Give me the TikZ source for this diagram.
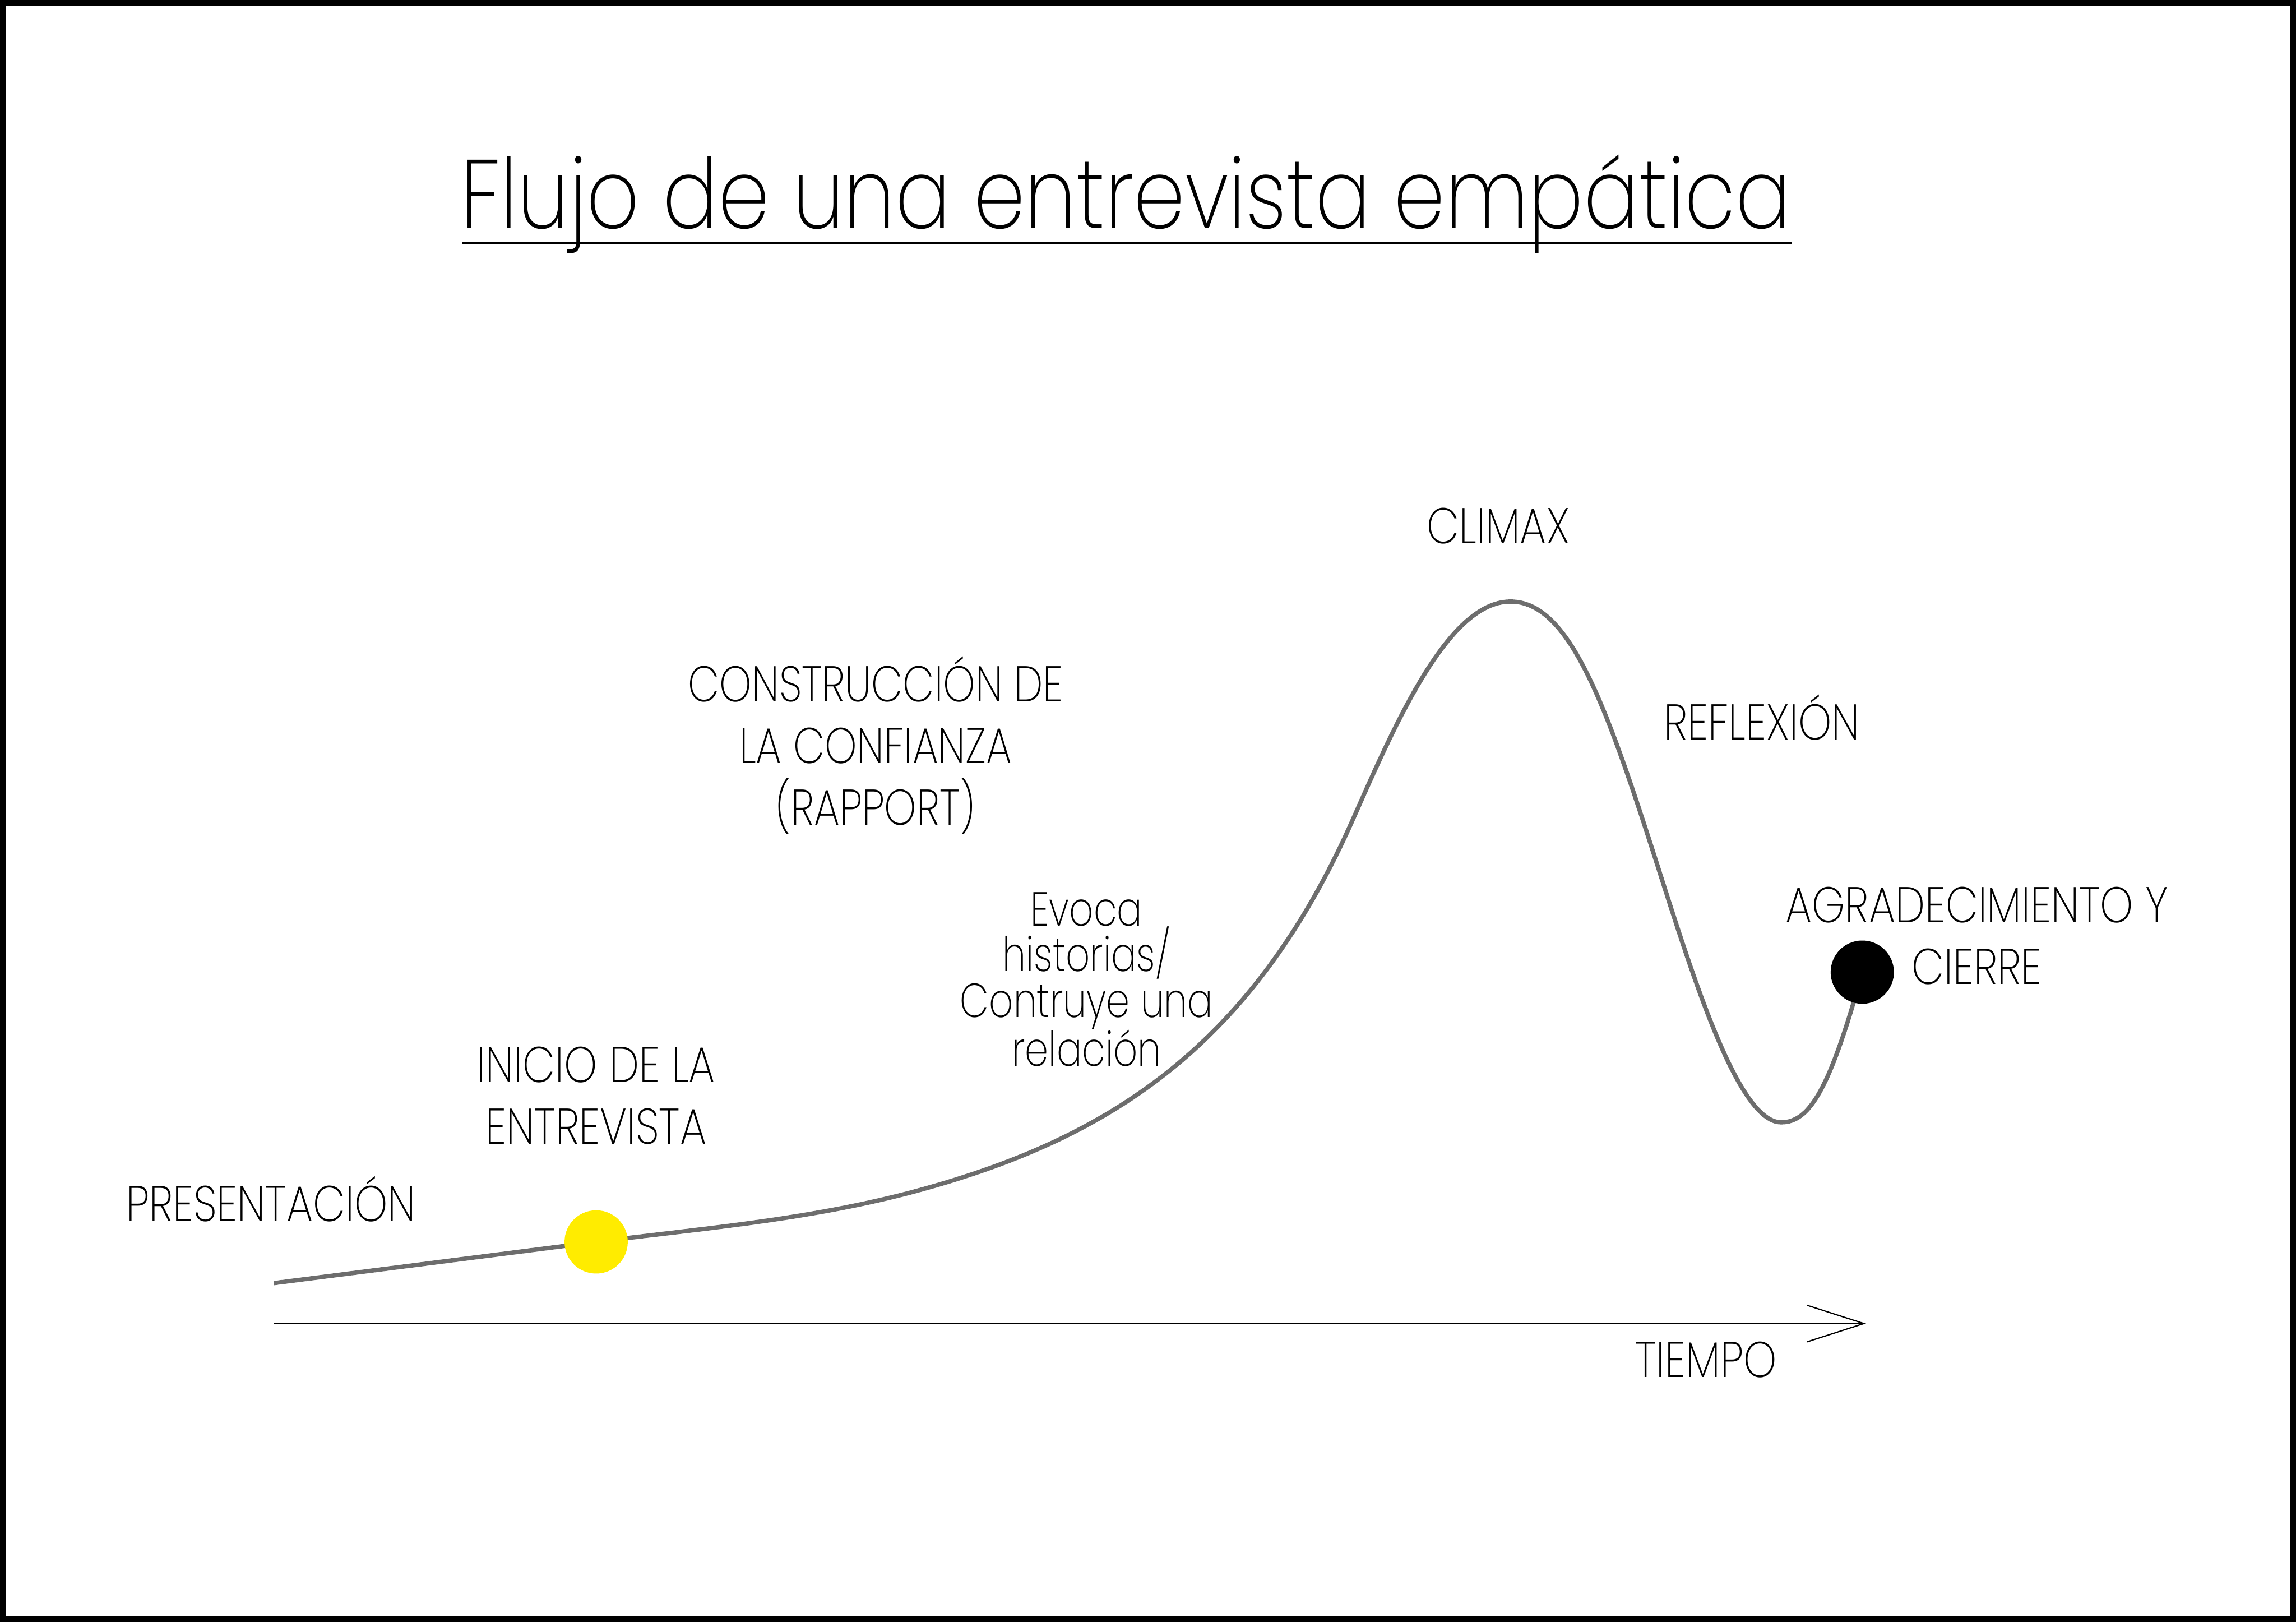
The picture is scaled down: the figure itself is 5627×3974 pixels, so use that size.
\documentclass[tikz,border=0pt]{standalone}
\usepackage{fontspec}
\usetikzlibrary{arrows.meta}
\setmainfont{Poppins}[UprightFont=* ExtraLight]
\newfontfamily\titlefont{Poppins}[UprightFont=* ExtraLight, FakeStretch=0.843]
\newfontfamily\capsfont{Poppins}[UprightFont=* ExtraLight, FakeStretch=0.84]
\newfontfamily\capsnarrowfont{Poppins}[UprightFont=* ExtraLight, FakeStretch=0.815]
\newfontfamily\smallfont{Poppins}[UprightFont=* ExtraLight, FakeStretch=0.79]
\definecolor{curvegray}{HTML}{6D6D6D}
\definecolor{dotyellow}{HTML}{FFEC00}
\tikzset{
  caplabel/.style={anchor=base, align=center, inner sep=0pt, font=\capsfont\fontsize{123}{151}\selectfont},
  smalllabel/.style={anchor=base, align=center, inner sep=0pt, font=\smallfont\fontsize{117}{112}\selectfont},
  dot/.style={circle, inner sep=0pt, minimum size=155pt},
  curveline/.style={curvegray, line width=10.5pt},
}
\begin{document}
\begin{tikzpicture}[x=1pt,y=-1pt]
\useasboundingbox (0,0) rectangle (5627,3974);
\draw[line width=15pt] (7.5,7.5) rectangle (5619.5,3966.5);
% title
\node[anchor=base, inner sep=0pt, font=\titlefont\fontsize{239}{260}\selectfont] (title) at (2760,560) {Flujo de una entrevista empática};
\coordinate (ulA) at (1132,595);
\coordinate (ulB) at (4390,595);
\draw[line width=5pt] (ulA) -- (ulB);
% axis
\coordinate (axA) at (671,3243);
\coordinate (axB) at (4573,3243);
\draw[line width=3pt, -{Straight Barb[length=140pt, width=90pt, line width=3pt]}] (axA) -- (axB);
% curve
\coordinate (c0) at (671,3144);
\coordinate (ypos) at (1461,3043);
\coordinate (c1) at (2261,2914);
\coordinate (c2) at (3316,2007);
\coordinate (peak) at (3702,1474);
\coordinate (c3) at (4050,2083);
\coordinate (low) at (4365,2750);
\coordinate (bpos) at (4564,2382);
\draw[curveline]
  (c0) -- (ypos)
  .. controls (1728,3009) and (1994,2988) .. (c1)
  .. controls (2711,2789) and (3066,2572) .. (c2)
  .. controls (3426,1758) and (3552,1474) .. (peak)
  .. controls (3842,1474) and (3930,1710) .. (c3)
  .. controls (4140,2363) and (4255,2750) .. (low)
  .. controls (4435,2750) and (4484,2670) .. (bpos);
% dots
\node[dot, fill=dotyellow] (yellow) at (ypos) {};
\node[dot, fill=black] (black) at (bpos) {};
% labels
\node[caplabel] (pres) at (664,2993) {PRESENTACIÓN};
\node[caplabel] (inicio) at (1461,2803) {INICIO DE LA\\ENTREVISTA};
\node[caplabel, font=\capsnarrowfont\fontsize{123}{151}\selectfont] (constr) at (2146,2021) {CONSTRUCCIÓN DE\\LA CONFIANZA\\(RAPPORT)};
\node[smalllabel] (evoca) at (2663,2612) {Evoca\\historias/\\Contruye una\\relación};
\node[caplabel] (climax) at (3672,1332) {CLIMAX};
\node[caplabel] (refl) at (4318,1812) {REFLEXIÓN};
\node[caplabel] (agrad) at (4845,2412) {AGRADECIMIENTO Y\\CIERRE};
\node[caplabel] (tiempo) at (4181,3374) {TIEMPO};
\end{tikzpicture}
\end{document}
